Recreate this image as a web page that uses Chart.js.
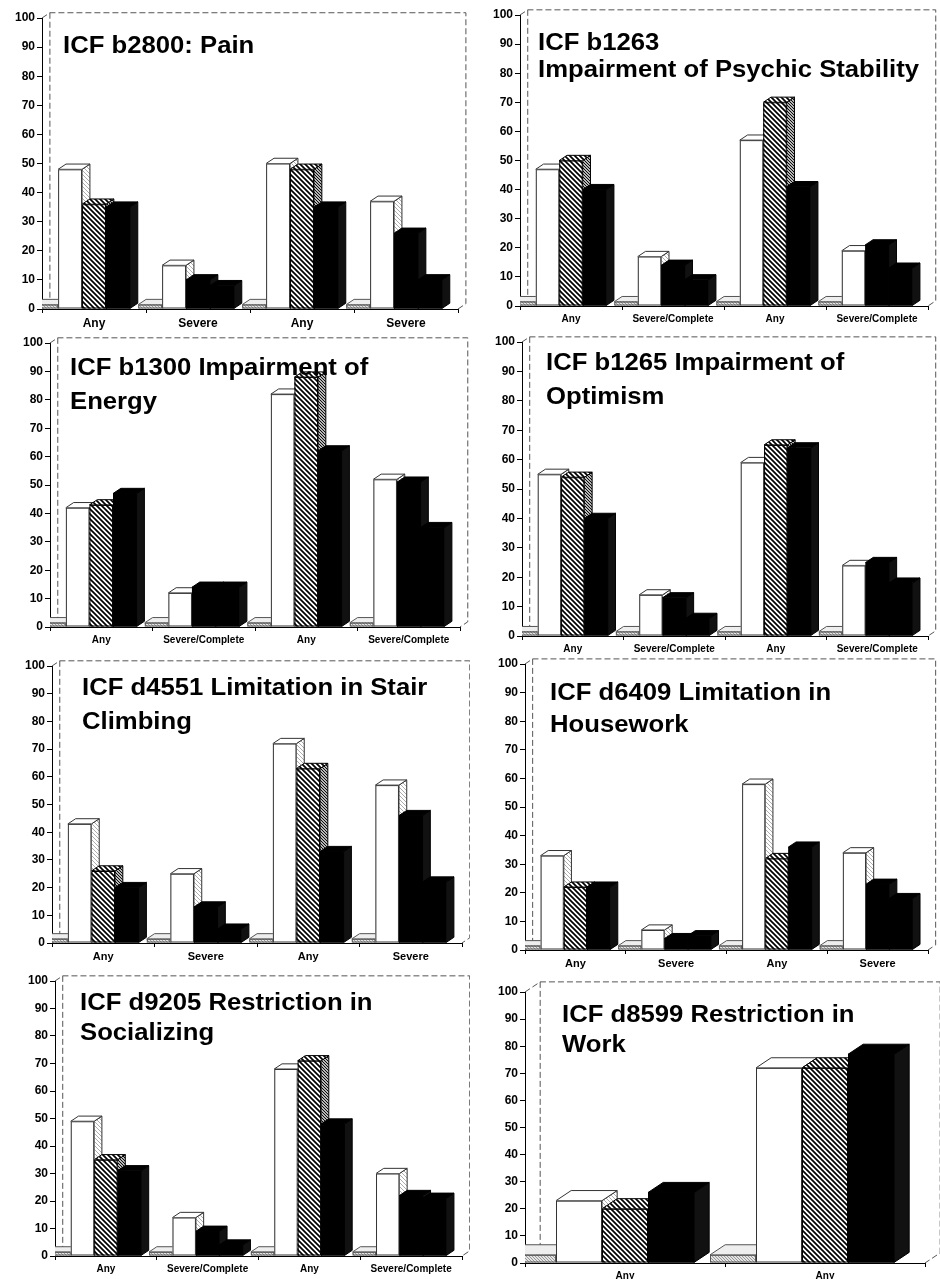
<!DOCTYPE html>
<html>
<head>
<meta charset="utf-8">
<script src="https://cdn.jsdelivr.net/npm/chart.js@4"></script>
<style>
  body { margin: 0; background: #fff; width: 940px; height: 1279px; position: relative; overflow: hidden; }
  canvas { position: absolute; }
  .ttl { position: absolute; font-family: "Liberation Sans", Arial, sans-serif; font-weight: bold; font-size: 24px;
         line-height: 24px; white-space: nowrap; color: #000; transform: scaleX(1.07); transform-origin: left top; z-index: 2; }
</style>
</head>
<body>
<script>
// x categories
const anySevere = ['Any', 'Severe', 'Any', 'Severe'];
const anySevComp = ['Any', 'Severe/Complete', 'Any', 'Severe/Complete'];
const anyAny = ['Any', 'Any'];

// values (percent); base = the thin floor bar
const painWhite = [48, 15, 50, 37];
const painHatched = [36, 10, 48, 26];
const painBlack = [35, 8, 35, 10];

const psychWhite = [47, 17, 57, 19];
const psychHatched = [50, 14, 70, 21];
const psychBlack = [40, 9, 41, 13];

const energyWhite = [42, 12, 82, 52];
const energyHatched = [43, 14, 88, 51];
const energyBlack = [47, 14, 62, 35];

const optimWhite = [55, 14, 59, 24];
const optimHatched = [54, 13, 65, 25];
const optimBlack = [40, 6, 64, 18];

const stairWhite = [43, 25, 72, 57];
const stairHatched = [26, 13, 63, 46];
const stairBlack = [20, 5, 33, 22];

const houseWhite = [33, 7, 58, 34];
const houseHatched = [22, 4, 32, 23];
const houseBlack = [22, 5, 36, 18];

const socialWhite = [49, 14, 68, 30];
const socialHatched = [35, 9, 71, 22];
const socialBlack = [31, 4, 48, 21];

const workWhite = [23, 72];
const workHatched = [20, 72];
const workBlack = [26, 77];

const baseSmall = [1.5, 1.5, 1.5, 1.5];
const baseWork = [3, 3];

const yTicks = [0, 10, 20, 30, 40, 50, 60, 70, 80, 90, 100];

const FAM = '"Liberation Sans", Arial, sans-serif';
const SHIFT = 0.115; // the 3d bars sit a bit left of their floor labels

function hatch(bg, fg, step, lw) {
  const c = document.createElement('canvas');
  c.width = c.height = step;
  const g = c.getContext('2d');
  g.fillStyle = bg;
  g.fillRect(0, 0, step, step);
  g.strokeStyle = fg;
  g.lineWidth = lw;
  g.beginPath();
  g.moveTo(-1, -1); g.lineTo(step + 1, step + 1);
  g.moveTo(-1, step - 1); g.lineTo(1, step + 1);
  g.moveTo(step - 1, -1); g.lineTo(step + 1, 1);
  g.stroke();
  return g.createPattern(c, 'repeat');
}

const WHITE = '#ffffff';
const BLACK = '#000000';
const HATCH = hatch('#fff', '#000', 5, 1.7);
const HATCH_SIDE = hatch('#fff', '#000', 3, 1.1);
const DOTS = hatch('#fff', '#8a8a8a', 4, 0.7);
const STUB = hatch('#e4e4e4', '#777', 3, 0.7);

const faces = new Map();
faces.set(WHITE, { side: DOTS, top: '#fff', line: '#333' });
faces.set(BLACK, { side: '#111', top: '#000', line: '#000' });
faces.set(HATCH, { side: HATCH_SIDE, top: HATCH, line: '#000' });
faces.set(STUB, { side: STUB, top: '#eeeeee', line: '#555' });

function poly(ctx, pts, fill) {
  ctx.beginPath();
  ctx.moveTo(pts[0][0], pts[0][1]);
  pts.slice(1).forEach(p => ctx.lineTo(p[0], p[1]));
  ctx.closePath();
  ctx.fillStyle = fill;
  ctx.fill();
  ctx.stroke();
}

// back wall of the 3d box
const wall = {
  id: 'wall',
  beforeDatasetsDraw(chart) {
    const { left, right, top, bottom } = chart.chartArea;
    const w = chart.getDatasetMeta(1).data[0].width;
    const dx = w * 0.33, dy = w * 0.22;
    const ctx = chart.ctx;
    ctx.save();
    ctx.setLineDash([6, 3]);
    ctx.strokeStyle = '#555';
    ctx.lineWidth = 1;
    ctx.beginPath();
    ctx.moveTo(left, top); ctx.lineTo(left + dx, top - dy);
    ctx.lineTo(right + dx, top - dy); ctx.lineTo(right + dx, bottom - dy); ctx.lineTo(right, bottom);
    ctx.moveTo(left + dx, top - dy); ctx.lineTo(left + dx, bottom - dy); ctx.lineTo(left, bottom);
    ctx.stroke();
    ctx.restore();
  }
};

// side and top faces, drawn left to right so the next bar hides what it should
const depth3d = {
  id: 'depth3d',
  afterDatasetsDraw(chart) {
    const ctx = chart.ctx;
    const area = chart.chartArea;
    const bars = [];
    chart.data.datasets.forEach((ds, i) => {
      chart.getDatasetMeta(i).data.forEach((el, j) => {
        const bg = Array.isArray(ds.backgroundColor) ? ds.backgroundColor[j] : ds.backgroundColor;
        bars.push({ el, bg });
      });
    });
    bars.sort((a, b) => a.el.x - b.el.x);
    ctx.save();
    ctx.beginPath();
    ctx.rect(area.left, 0, chart.width, chart.height);
    ctx.clip();
    ctx.lineWidth = 1;
    bars.forEach(({ el, bg }) => {
      const { x, y, base, width } = el.getProps(['x', 'y', 'base', 'width'], true);
      const l = x - width / 2, r = x + width / 2;
      const dx = width * 0.33, dy = width * 0.22;
      const f = faces.get(bg);
      ctx.strokeStyle = f.line;
      poly(ctx, [[r, y], [r + dx, y - dy], [r + dx, base - dy], [r, base]], f.side);
      poly(ctx, [[l, y], [l + dx, y - dy], [r + dx, y - dy], [r, y]], f.top);
      ctx.fillStyle = bg;
      ctx.fillRect(l, y, width, base - y);
      ctx.strokeRect(l + 0.5, y + 0.5, width - 1, base - y - 1);
    });
    ctx.restore();
  }
};

const panels = [
  { col: 0, axisX: 42, y100: 18, y0: 309, right: 458, xFont: 12, labels: anySevere, base: baseSmall, white: painWhite, hatched: painHatched, black: painBlack,
    title: [['ICF b2800: Pain', 63, 36]] },
  { col: 1, axisX: 520, y100: 15, y0: 306, right: 928, xFont: 10, labels: anySevComp, base: baseSmall, white: psychWhite, hatched: psychHatched, black: psychBlack,
    title: [['ICF b1263', 538, 33], ['Impairment of Psychic Stability', 538, 60]] },
  { col: 0, axisX: 50, y100: 343, y0: 627, right: 460, xFont: 10, labels: anySevComp, base: baseSmall, white: energyWhite, hatched: energyHatched, black: energyBlack,
    title: [['ICF b1300 Impairment of', 70, 358], ['Energy', 70, 392]] },
  { col: 1, axisX: 522, y100: 342, y0: 636, right: 928, xFont: 10, labels: anySevComp, base: baseSmall, white: optimWhite, hatched: optimHatched, black: optimBlack,
    title: [['ICF b1265 Impairment of', 546, 353], ['Optimism', 546, 387]] },
  { col: 0, axisX: 52, y100: 666, y0: 943, right: 462, xFont: 11, labels: anySevere, base: baseSmall, white: stairWhite, hatched: stairHatched, black: stairBlack,
    title: [['ICF d4551 Limitation in Stair', 82, 678], ['Climbing', 82, 712]] },
  { col: 1, axisX: 525, y100: 664, y0: 950, right: 928, xFont: 11, labels: anySevere, base: baseSmall, white: houseWhite, hatched: houseHatched, black: houseBlack,
    title: [['ICF d6409 Limitation in', 550, 683], ['Housework', 550, 715]] },
  { col: 0, axisX: 55, y100: 981, y0: 1256, right: 462, xFont: 10, labels: anySevComp, base: baseSmall, white: socialWhite, hatched: socialHatched, black: socialBlack,
    title: [['ICF d9205 Restriction in', 80, 993], ['Socializing', 80, 1023]] },
  { col: 1, axisX: 525, y100: 992, y0: 1263, right: 925, xFont: 10, labels: anyAny, base: baseWork, white: workWhite, hatched: workHatched, black: workBlack,
    title: [['ICF d8599 Restriction in', 562, 1005], ['Work', 562, 1035]] }
];

// bars are placed on a hidden numeric copy of the category index
const pts = arr => arr.map((v, i) => ({ x: i, y: v }));

function makeChart(p) {
  const colX = p.col * 470;
  const top = p.y100 - 14;
  const height = p.y0 - p.y100 + 14 + 30;
  const n = p.labels.length;
  const cv = document.createElement('canvas');
  cv.width = 470; cv.height = height;
  cv.style.left = colX + 'px'; cv.style.top = top + 'px';
  cv.style.width = '470px'; cv.style.height = height + 'px';
  document.body.appendChild(cv);

  // the second bar of the "severe" groups prints solid black in the figure
  const midColors = p.labels.map(l => l === 'Any' ? HATCH : BLACK);

  new Chart(cv, {
    type: 'bar',
    data: {
      labels: p.labels,
      datasets: [
        { label: 'base', data: pts(p.base), backgroundColor: STUB, borderColor: '#555', xAxisID: 'xb' },
        { label: 'white', data: pts(p.white), backgroundColor: WHITE, borderColor: '#333', xAxisID: 'xb' },
        { label: 'hatched', data: pts(p.hatched), backgroundColor: midColors, borderColor: '#000', xAxisID: 'xb' },
        { label: 'black', data: pts(p.black), backgroundColor: BLACK, borderColor: '#000', xAxisID: 'xb' }
      ]
    },
    options: {
      responsive: false,
      animation: false,
      datasets: { bar: { categoryPercentage: 0.92, barPercentage: 1.0, borderWidth: 1 } },
      layout: { padding: { left: p.axisX - colX - 40, right: colX + 470 - p.right, top: 14, bottom: 0 } },
      plugins: { legend: { display: false }, tooltip: { enabled: false } },
      scales: {
        x: {
          type: 'category',
          offset: true,
          grid: { display: true, offset: true, drawOnChartArea: false, tickLength: 4, color: '#000' },
          border: { color: '#000' },
          ticks: { color: '#000', font: { family: FAM, weight: 'bold', size: p.xFont }, padding: 3, maxRotation: 0, autoSkip: false },
          afterFit: s => { s.height = 30; }
        },
        xb: {
          type: 'linear',
          display: false,
          offset: false,
          grid: { offset: false },
          min: -0.5 + SHIFT,
          max: n - 0.5 + SHIFT,
          afterBuildTicks: s => { s.ticks = p.labels.map((_, i) => ({ value: i })); }
        },
        y: {
          min: 0, max: 100,
          afterBuildTicks: s => { s.ticks = yTicks.map(v => ({ value: v })); },
          ticks: { color: '#000', font: { family: FAM, weight: 'bold', size: 12 }, padding: 2 },
          grid: { display: true, drawOnChartArea: false, tickLength: 5, color: '#000' },
          border: { color: '#000' },
          afterFit: s => { s.width = 40; }
        }
      }
    },
    plugins: [wall, depth3d]
  });

  p.title.forEach(([text, x, capTop]) => {
    const d = document.createElement('div');
    d.className = 'ttl';
    d.textContent = text;
    d.style.left = x + 'px';
    d.style.top = (capTop - 3) + 'px';
    document.body.appendChild(d);
  });
}

panels.forEach(makeChart);
</script>
</body>
</html>
